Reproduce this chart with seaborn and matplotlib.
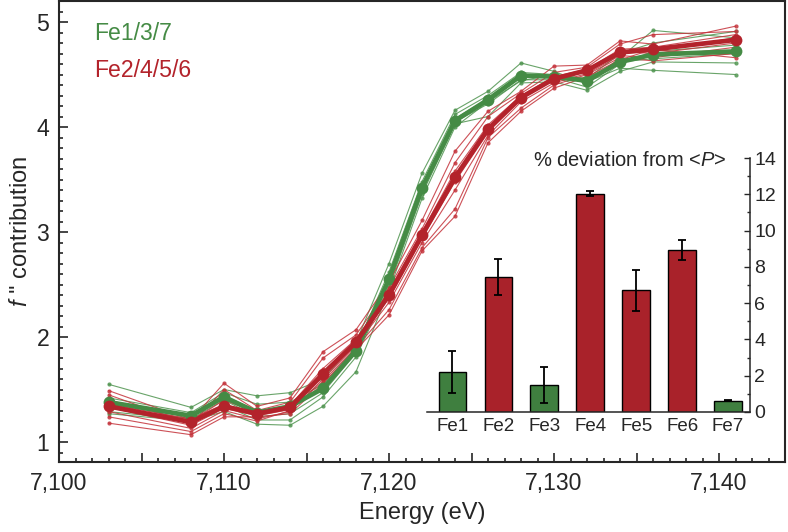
import numpy as np
import pandas as pd
import matplotlib
matplotlib.use("Agg")
import matplotlib.pyplot as plt
import seaborn as sns
from matplotlib.ticker import MultipleLocator, FuncFormatter

sns.set_style("ticks")
plt.rcParams['font.family'] = ['Liberation Sans', 'DejaVu Sans']
plt.rcParams['mathtext.fontset'] = 'custom'
plt.rcParams['mathtext.rm'] = 'Liberation Sans'
plt.rcParams['mathtext.it'] = 'Liberation Sans:italic'

# ========== data ==========
energy = [7103, 7108, 7110, 7112, 7114, 7116, 7118, 7120, 7122, 7124,
          7126, 7128, 7130, 7132, 7134, 7136, 7141]

green_mean = [1.38, 1.25, 1.43, 1.28, 1.34, 1.51, 1.87, 2.55, 3.42, 4.06,
              4.26, 4.49, 4.48, 4.44, 4.62, 4.69, 4.72]
red_mean = [1.34, 1.19, 1.34, 1.27, 1.33, 1.65, 1.95, 2.40, 2.97, 3.52,
            3.98, 4.28, 4.46, 4.54, 4.71, 4.74, 4.83]

# thin curves, Fe1/3/7 group
green_runs = [
    [1.55, 1.33, 1.50, 1.44, 1.47, 1.60, 1.95, 2.70, 3.56, 4.16, 4.34, 4.61, 4.53, 4.41, 4.66, 4.92, 4.85],
    [1.42, 1.28, 1.47, 1.36, 1.38, 1.55, 1.90, 2.62, 3.48, 4.12, 4.30, 4.52, 4.50, 4.46, 4.70, 4.80, 4.91],
    [1.37, 1.25, 1.44, 1.30, 1.33, 1.52, 1.88, 2.58, 3.44, 4.08, 4.27, 4.48, 4.47, 4.38, 4.60, 4.72, 4.78],
    [1.33, 1.22, 1.40, 1.24, 1.27, 1.47, 1.85, 2.52, 3.40, 4.05, 4.22, 4.45, 4.45, 4.47, 4.62, 4.65, 4.70],
    [1.29, 1.21, 1.35, 1.21, 1.21, 1.43, 1.81, 2.48, 3.36, 4.03, 4.10, 4.42, 4.43, 4.35, 4.53, 4.62, 4.61],
    [1.27, 1.20, 1.29, 1.17, 1.16, 1.34, 1.67, 2.44, 3.32, 4.00, 4.24, 4.44, 4.50, 4.43, 4.56, 4.54, 4.50],
]
# thin curves, Fe2/4/5/6 group
red_runs = [
    [1.49, 1.21, 1.56, 1.34, 1.42, 1.86, 2.07, 2.52, 3.11, 3.77, 4.15, 4.34, 4.58, 4.59, 4.82, 4.79, 4.96],
    [1.45, 1.17, 1.50, 1.30, 1.38, 1.80, 2.02, 2.47, 3.03, 3.66, 4.10, 4.32, 4.52, 4.57, 4.79, 4.88, 4.91],
    [1.40, 1.20, 1.40, 1.28, 1.35, 1.70, 1.98, 2.44, 3.00, 3.58, 4.02, 4.30, 4.48, 4.55, 4.74, 4.76, 4.88],
    [1.36, 1.22, 1.36, 1.27, 1.33, 1.66, 1.96, 2.40, 2.98, 3.54, 3.98, 4.28, 4.46, 4.53, 4.70, 4.72, 4.85],
    [1.33, 1.16, 1.32, 1.25, 1.31, 1.62, 1.93, 2.37, 2.94, 3.48, 3.95, 4.27, 4.45, 4.55, 4.72, 4.70, 4.80],
    [1.29, 1.13, 1.30, 1.22, 1.29, 1.60, 1.92, 2.33, 2.90, 3.40, 3.92, 4.24, 4.42, 4.51, 4.68, 4.66, 4.76],
    [1.24, 1.10, 1.27, 1.20, 1.30, 1.58, 1.90, 2.26, 2.85, 3.22, 3.90, 4.18, 4.40, 4.50, 4.66, 4.63, 4.70],
    [1.18, 1.07, 1.24, 1.24, 1.27, 1.56, 1.88, 2.21, 2.82, 3.15, 3.85, 4.15, 4.37, 4.48, 4.64, 4.74, 4.66],
]

# inset: % deviation from <P>
sites = ['Fe1', 'Fe2', 'Fe3', 'Fe4', 'Fe5', 'Fe6', 'Fe7']
deviation = [2.2, 7.44, 1.48, 12.04, 6.7, 8.95, 0.63]
deviation_err = [1.15, 0.98, 1.0, 0.15, 1.15, 0.55, 0.05]
site_group = ['g', 'r', 'g', 'r', 'r', 'r', 'g']

GREEN = '#458b45'
RED = '#b3232b'
GREEN_THIN = '#4f944f'
RED_THIN = '#c4323a'
BAR_GREEN = '#3f7f3f'
BAR_RED = '#a9222a'

# ========== figure ==========
fig = plt.figure(figsize=(7.88, 5.32), dpi=100)
ax = fig.add_axes([0.0749, 0.1316, 0.9213, 0.8665])

for run in green_runs:
    sns.lineplot(x=energy, y=run, ax=ax, color=GREEN_THIN, linewidth=0.8, alpha=0.85,
                 marker='o', markersize=3, markeredgewidth=0)
for run in red_runs:
    sns.lineplot(x=energy, y=run, ax=ax, color=RED_THIN, linewidth=0.8, alpha=0.85,
                 marker='o', markersize=3, markeredgewidth=0)

sns.lineplot(x=energy, y=green_mean, ax=ax, color=GREEN, linewidth=3.4,
             marker='o', markersize=8.5, markeredgewidth=0)
sns.lineplot(x=energy, y=red_mean, ax=ax, color=RED, linewidth=3.4,
             marker='o', markersize=8.5, markeredgewidth=0)

ax.set_xlim(7100, 7144)
ax.set_ylim(0.81, 5.2)
ax.xaxis.set_major_locator(MultipleLocator(5))
ax.xaxis.set_minor_locator(MultipleLocator(1))
ax.xaxis.set_major_formatter(FuncFormatter(
    lambda v, p: f"{int(round(v)):,}" if round(v) % 10 == 0 else ''))
ax.yaxis.set_major_locator(MultipleLocator(1))
ax.yaxis.set_minor_locator(MultipleLocator(0.1))
ax.tick_params(which='both', direction='in', top=False, right=False,
               width=1.2, labelsize=16.6, pad=7)
ax.tick_params(which='major', length=6.5)
ax.tick_params(which='minor', length=3)
for s in ax.spines.values():
    s.set_linewidth(1.5)
ax.set_xlabel('Energy (eV)', fontsize=17, labelpad=5)
ax.set_ylabel(r"$f$ '' contribution", fontsize=17, labelpad=3)

ax.text(0.048, 0.93, 'Fe1/3/7', color=GREEN, fontsize=16.6, va='center', ha='left',
        transform=ax.transAxes)
ax.text(0.048, 0.85, 'Fe2/4/5/6', color=RED, fontsize=16.6, va='center', ha='left',
        transform=ax.transAxes)

# ========== inset ==========
ins = fig.add_axes([0.542, 0.2256, 0.410, 0.4774])
ins.patch.set_alpha(0)
bar_colors = [BAR_GREEN if g == 'g' else BAR_RED for g in site_group]
df = pd.DataFrame({'site': sites, 'dev': deviation})
sns.barplot(data=df, x='site', y='dev', hue='site', palette=bar_colors, legend=False,
            ax=ins, width=0.6, edgecolor='black', linewidth=1.0, saturation=1)
ins.errorbar(range(len(sites)), deviation, yerr=deviation_err, fmt='none',
             ecolor='black', elinewidth=1.3, capsize=3, capthick=1.3)

ins.set_xlim(-0.55, 6.48)
ins.set_ylim(0, 14.0)
ins.spines['left'].set_visible(False)
ins.spines['top'].set_visible(False)
ins.spines['right'].set_bounds(0, 14)
ins.spines['right'].set_linewidth(1.1)
ins.spines['bottom'].set_linewidth(1.1)
ins.yaxis.tick_right()
ins.yaxis.set_major_locator(MultipleLocator(2))
ins.yaxis.set_minor_locator(MultipleLocator(1))
ins.tick_params(axis='y', which='both', direction='in', labelsize=14, pad=3, width=1.0)
ins.tick_params(axis='y', which='major', length=4.5)
ins.tick_params(axis='y', which='minor', length=2.5)
ins.tick_params(axis='x', length=0, labelsize=13.5, pad=4)
ins.set_xlabel('')
ins.set_ylabel('')
ins.text(0.925, 0.99, r'% deviation from <$P$>', fontsize=14.5, ha='right', va='center',
         transform=ins.transAxes)

plt.savefig('out.png', dpi=100)
plt.close()
